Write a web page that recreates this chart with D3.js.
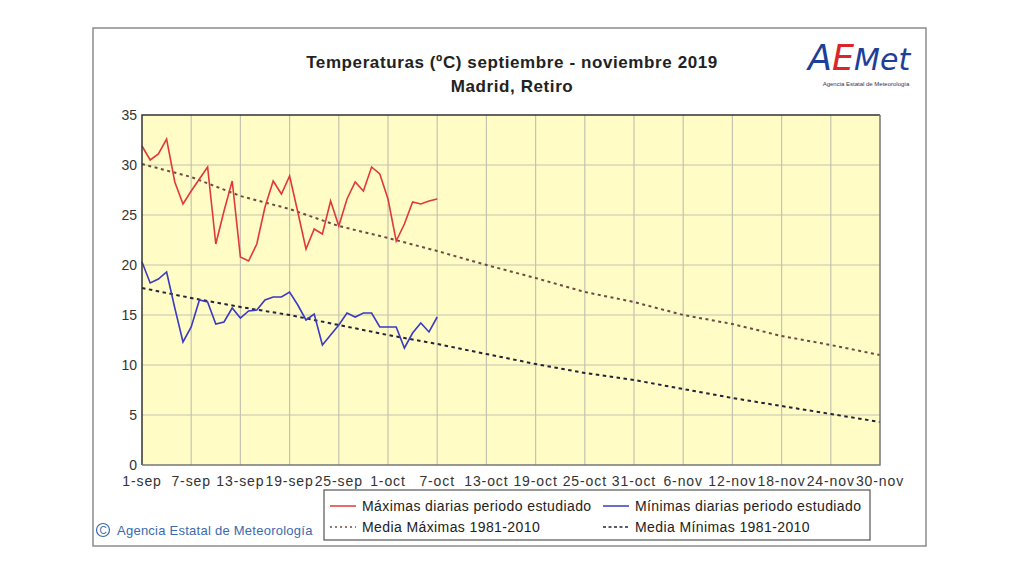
<!DOCTYPE html>
<html><head><meta charset="utf-8">
<script src="https://cdn.jsdelivr.net/npm/d3@7"></script>
<style>
body{margin:0;background:#fff;}
svg{display:block;font-family:"Liberation Sans",Arial,sans-serif;}
</style></head>
<body><svg id="c" width="1024" height="576"></svg>
<script>
// ---- data ----
const xTickLabels = ["1-sep","7-sep","13-sep","19-sep","25-sep","1-oct","7-oct","13-oct","19-oct","25-oct","31-oct","6-nov","12-nov","18-nov","24-nov","30-nov"];
const xTickDays = [0,6,12,18,24,30,36,42,48,54,60,66,72,78,84,90];
const yTicks = [0,5,10,15,20,25,30,35];
// daily maxima 1-sep .. 7-oct
const maxDaily = [31.9,30.5,31.1,32.6,28.3,26.1,27.4,28.6,29.8,22.1,25.4,28.4,20.8,20.4,22.1,25.8,28.4,27.1,28.9,25.3,21.6,23.6,23.1,26.4,23.9,26.6,28.3,27.4,29.8,29.1,26.6,22.4,24.1,26.3,26.1,26.4,26.6];
// daily minima 1-sep .. 7-oct
const minDaily = [20.3,18.2,18.6,19.3,15.7,12.3,13.8,16.5,16.3,14.1,14.3,15.7,14.7,15.4,15.5,16.5,16.8,16.8,17.3,16.0,14.5,15.1,12.0,13.0,14.0,15.2,14.8,15.2,15.2,13.8,13.8,13.8,11.7,13.2,14.2,13.3,14.8];
// 1981-2010 means read at tick dates
const meanMax = [30.1,28.8,26.9,25.6,23.9,22.7,21.4,20.0,18.7,17.3,16.3,15.0,14.1,12.9,12.0,11.0];
const meanMin = [17.7,16.7,15.8,15.0,14.0,13.0,12.1,11.1,10.1,9.2,8.5,7.6,6.7,5.9,5.1,4.3];

const svg = d3.select("#c");
const L=142,R=880,T=115,B=465;
const x = d3.scaleLinear().domain([0,90]).range([L,R]);
const y = d3.scaleLinear().domain([0,35]).range([B,T]);

// outer frame
svg.append("rect").attr("x",93).attr("y",28).attr("width",833).attr("height",518)
  .attr("fill","#fff").attr("stroke","#8c8c8c").attr("stroke-width",1.5);

// title
svg.append("text").attr("x",512).attr("y",68).attr("text-anchor","middle")
  .attr("font-size",17).attr("font-weight","bold").attr("letter-spacing",0.6).attr("fill","#222")
  .text("Temperaturas (ºC) septiembre - noviembre 2019");
svg.append("text").attr("x",512).attr("y",92).attr("text-anchor","middle")
  .attr("font-size",17).attr("font-weight","bold").attr("letter-spacing",0.6).attr("fill","#222")
  .text("Madrid, Retiro");

// logo
const logo = svg.append("text").attr("x",808).attr("y",70)
  .attr("font-family","'DejaVu Sans',sans-serif").attr("font-style","italic").attr("font-size",35);
logo.append("tspan").attr("fill","#1d3f9a").text("A");
logo.append("tspan").attr("fill","#d8262a").text("E");
logo.append("tspan").attr("fill","#1d3f9a").attr("font-size",30).text("Met");
svg.append("text").attr("x",866).attr("y",86).attr("text-anchor","middle")
  .attr("font-size",6).attr("fill","#335").text("Agencia Estatal de Meteorología");

// plot background
svg.append("rect").attr("x",L).attr("y",T).attr("width",R-L).attr("height",B-T).attr("fill","#fffcc6");

// grid
const g = svg.append("g");
g.selectAll(".hg").data(yTicks.slice(1,-1)).enter().append("line")
  .attr("x1",L).attr("x2",R).attr("y1",d=>y(d)).attr("y2",d=>y(d))
  .attr("stroke","#c4c4b0").attr("stroke-width",1.2);
g.selectAll(".vg").data(xTickDays.slice(1,-1)).enter().append("line")
  .attr("y1",T).attr("y2",B).attr("x1",d=>x(d)).attr("x2",d=>x(d))
  .attr("stroke","#c4c4b0").attr("stroke-width",1.2);

// axes labels
svg.append("g").selectAll("text").data(yTicks).enter().append("text")
  .attr("x",137).attr("y",d=>y(d)+5).attr("text-anchor","end")
  .attr("font-size",14).attr("fill","#333").text(d=>d);
svg.append("g").selectAll("text").data(xTickDays).enter().append("text")
  .attr("x",d=>x(d)).attr("y",486).attr("text-anchor","middle")
  .attr("font-size",14).attr("letter-spacing",0.9).attr("fill","#333")
  .text((d,i)=>xTickLabels[i]);

// lines
const line = d3.line().x((d,i)=>x(i)).y(d=>y(d));
const lineStep = d3.line().x((d,i)=>x(xTickDays[i])).y(d=>y(d));
svg.append("path").datum(meanMax).attr("d",lineStep).attr("fill","none")
  .attr("stroke","#6e4a46").attr("stroke-width",2).attr("stroke-dasharray","3,3.5");
svg.append("path").datum(meanMin).attr("d",lineStep).attr("fill","none")
  .attr("stroke","#23233a").attr("stroke-width",2).attr("stroke-dasharray","3.5,3.5");
svg.append("path").datum(maxDaily).attr("d",line).attr("fill","none")
  .attr("stroke","#e0383c").attr("stroke-width",1.6);
svg.append("path").datum(minDaily).attr("d",line).attr("fill","none")
  .attr("stroke","#3a3ac4").attr("stroke-width",1.6);

// plot border
svg.append("path").attr("d",`M${L},${B}V${T}H${R}`).attr("fill","none").attr("stroke","#333").attr("stroke-width",1.5);
svg.append("path").attr("d",`M${L},${B}H${R}V${T}`).attr("fill","none").attr("stroke","#777").attr("stroke-width",1.5);

// legend
const lg = svg.append("g");
lg.append("rect").attr("x",324).attr("y",490).attr("width",546).attr("height",50)
  .attr("fill","#fff").attr("stroke","#555").attr("stroke-width",1.2);
const leg = [
  {x:330,y:506,label:"Máximas diarias periodo estudiado",c:"#e0383c",dash:null},
  {x:603,y:506,label:"Mínimas diarias periodo estudiado",c:"#3a3ac4",dash:null},
  {x:330,y:527,label:"Media Máximas 1981-2010",c:"#6e4a46",dash:"2,3"},
  {x:603,y:527,label:"Media Mínimas 1981-2010",c:"#23233a",dash:"3,2.5"}
];
leg.forEach(e=>{
  lg.append("line").attr("x1",e.x).attr("x2",e.x+26).attr("y1",e.y).attr("y2",e.y)
    .attr("stroke",e.c).attr("stroke-width",1.5).attr("stroke-dasharray",e.dash);
  lg.append("text").attr("x",e.x+32).attr("y",e.y+5).attr("font-size",14)
    .attr("letter-spacing",0.4).attr("fill","#222").text(e.label);
});

// copyright
svg.append("circle").attr("cx",103).attr("cy",530).attr("r",6.5).attr("fill","none").attr("stroke","#3a6ab0").attr("stroke-width",1.2);
svg.append("text").attr("x",103).attr("y",534).attr("text-anchor","middle").attr("font-size",10).attr("fill","#3a6ab0").text("C");
svg.append("text").attr("x",117).attr("y",535).attr("font-size",13).attr("letter-spacing",0.25).attr("fill","#3a6ab0")
  .text("Agencia Estatal de Meteorología");
</script></body></html>
